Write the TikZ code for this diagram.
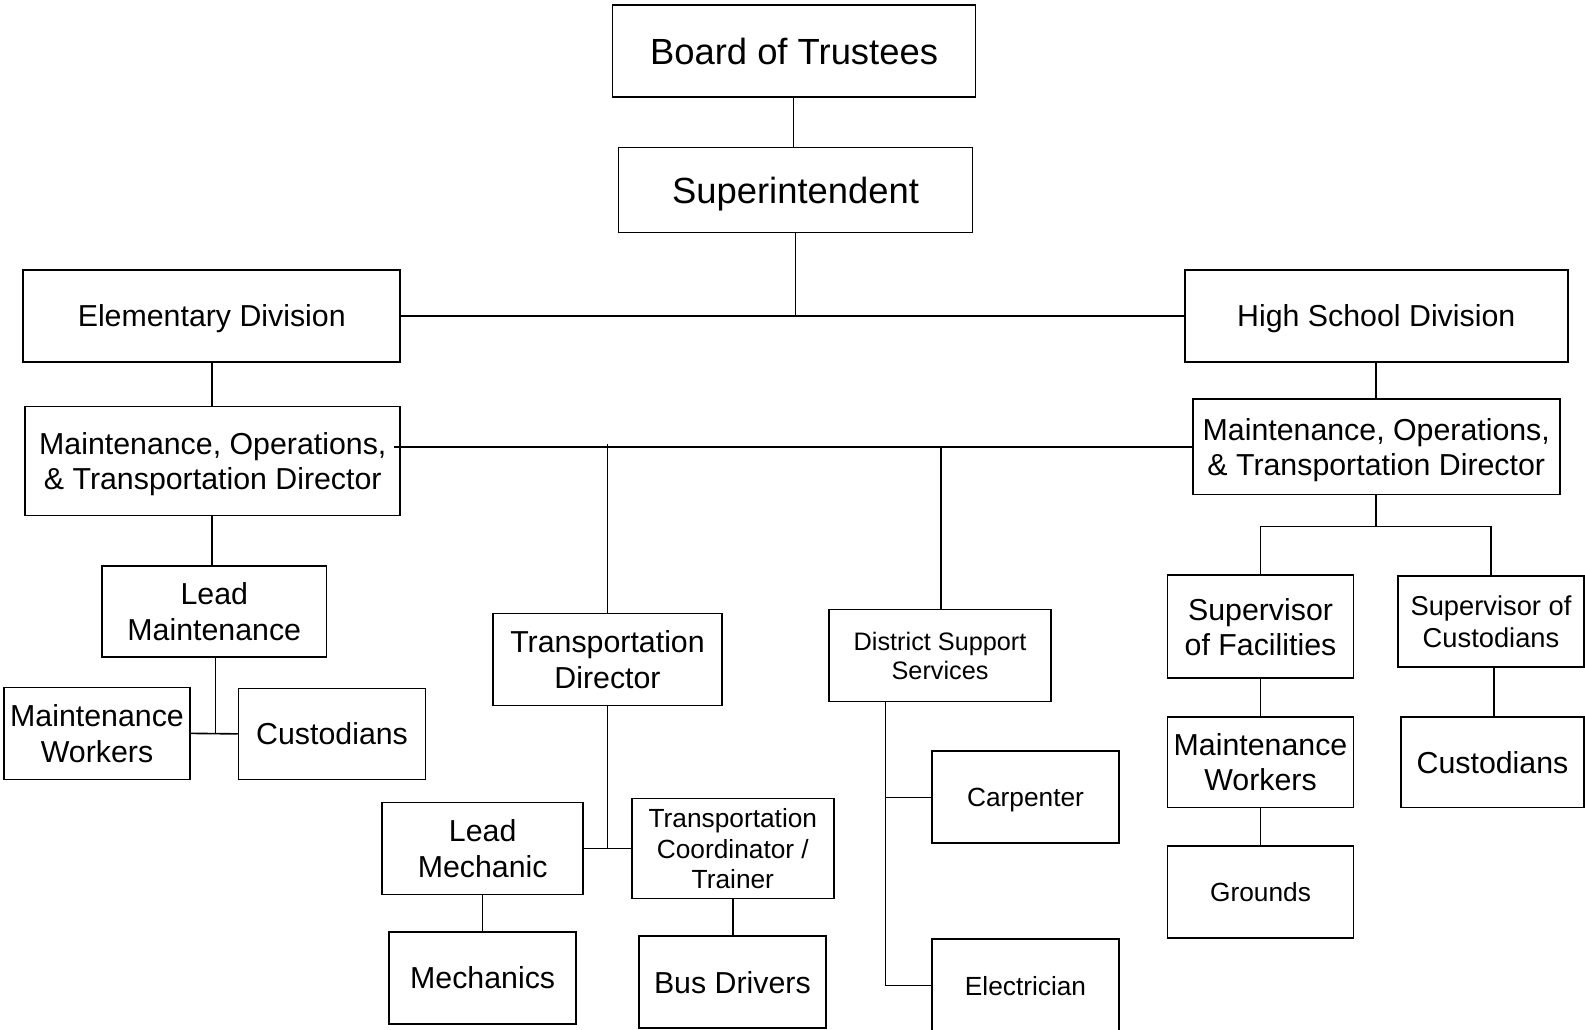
\documentclass[tikz,border=0pt]{standalone}
\usepackage{fontspec}
\setmainfont{Liberation Sans}
\begin{document}
\begin{tikzpicture}[x=1pt,y=-1pt,
  box/.style={draw=black,line width=1.6pt,fill=white,inner sep=0pt,align=center,text=black,text depth=0pt},
  fA/.style={font=\fontsize{36}{40}\selectfont},
  fB/.style={font=\fontsize{30}{35}\selectfont},
  fC/.style={font=\fontsize{27}{32}\selectfont},
  fD/.style={font=\fontsize{26}{30}\selectfont},
  fE/.style={font=\fontsize{25}{29}\selectfont},
  link/.style={draw=black,line width=1.6pt}]
\useasboundingbox[fill=white] (0,0) rectangle (1568,1018);

% nodes
\node[box,fA,minimum width=359pt,minimum height=91pt] (board) at (785.5,50.5) {Board of Trustees};
\node[box,fA,minimum width=350pt,minimum height=84pt] (super) at (787,188) {Superintendent};
\node[box,fB,minimum width=373pt,minimum height=91pt] (elem) at (209.5,312.5) {Elementary Division};
\node[box,fB,minimum width=379pt,minimum height=91pt] (high) at (1361.5,312.5) {High School Division};
\node[box,fB,minimum width=371pt,minimum height=108pt] (motL) at (210.5,456) {Maintenance, Operations,\\\& Transportation Director};
\node[box,fB,minimum width=363pt,minimum height=94pt] (motR) at (1361.5,442) {Maintenance, Operations,\\\& Transportation Director};
\node[box,fB,minimum width=222pt,minimum height=90pt] (leadM) at (212,605) {Lead\\Maintenance};
\node[box,fB,minimum width=184pt,minimum height=91pt] (mwL) at (96,725.5) {Maintenance\\Workers};
\node[box,fB,minimum width=185pt,minimum height=90pt] (custL) at (328.5,726) {Custodians};
\node[box,fB,minimum width=226pt,minimum height=91pt] (transDir) at (601,652.5) {Transportation\\Director};
\node[box,fE,minimum width=220pt,minimum height=91pt] (dss) at (930,648.5) {District Support\\Services};
\node[box,fB,minimum width=184pt,minimum height=102pt] (supFac) at (1247,620) {Supervisor\\of Facilities};
\node[box,fC,minimum width=184pt,minimum height=90pt] (supCust) at (1475,615) {Supervisor of\\Custodians};
\node[box,fB,minimum width=184pt,minimum height=90pt] (mwR) at (1247,754) {Maintenance\\Workers};
\node[box,fB,minimum width=181pt,minimum height=90pt] (custR) at (1476.5,754) {Custodians};
\node[box,fD,minimum width=184pt,minimum height=91pt] (grounds) at (1247,882.5) {Grounds};
\node[box,fD,minimum width=185pt,minimum height=91pt] (carp) at (1014.5,788.5) {Carpenter};
\node[box,fD,minimum width=185pt,minimum height=92pt] (elec) at (1014.5,975) {Electrician};
\node[box,fB,minimum width=199pt,minimum height=91pt] (leadMech) at (477.5,839.5) {Lead\\Mechanic};
\node[box,fD,minimum width=200pt,minimum height=99pt] (tcoord) at (725,839.5) {Transportation\\Coordinator /\\Trainer};
\node[box,fB,minimum width=185pt,minimum height=91pt] (mech) at (477.5,967.5) {Mechanics};
\node[box,fB,minimum width=185pt,minimum height=91pt] (bus) at (724.5,971.5) {Bus Drivers};

% junction coordinates
\coordinate (jTop) at (787,313);
\coordinate (jMotL) at (390,442);
\coordinate (jTD) at (601,439);
\coordinate (jDSS) at (931,442);
\coordinate (jR) at (1361,521);
\coordinate (jRL) at (1247,521);
\coordinate (jRR) at (1475,521);
\coordinate (jLM) at (213,726);
\coordinate (jTr) at (601,840);
\coordinate (jD1) at (876,789);
\coordinate (jD2) at (876,974);
\coordinate (xB) at (785,0);
\coordinate (xC) at (1478,0);
\coordinate (xE) at (210,0);

% connectors
\draw[link] (board.south -| xB) -- (super.north -| xB);
\draw[link] (super.south) -- (jTop);
\draw[link] (elem.east) -- (high.west);
\draw[link] (elem.south -| xE) -- (motL.north -| xE);
\draw[link] (high.south -| jR) -- (motR.north -| jR);
\draw[link] (jMotL) -- (motR.west);
\draw[link] (jTD) -- (transDir.north);
\draw[link] (jDSS) -- (dss.north -| jDSS);
\draw[link] (motR.south -| jR) -- (jR);
\draw[link] (supFac.north) -- (jRL) -- (jRR) -- (supCust.north);
\draw[link] (supFac.south) -- (mwR.north);
\draw[link] (mwR.south) -- (grounds.north);
\draw[link] (supCust.south -| xC) -- (custR.north -| xC);
\draw[link] (motL.south -| xE) -- (leadM.north -| xE);
\draw[link] (leadM.south -| jLM) -- (jLM);
\draw[link] (mwL.east) -- (custL.west);
\draw[link] (transDir.south) -- (jTr);
\draw[link] (leadMech.east) -- (tcoord.west);
\draw[link] (leadMech.south) -- (mech.north);
\draw[link] (tcoord.south) -- (bus.north -| tcoord.south);
\draw[link] (dss.south -| jD1) -- (jD2) -- (elec.west -| jD2) -- (elec.west);
\draw[link] (jD1) -- (carp.west |- jD1);
\end{tikzpicture}
\end{document}
